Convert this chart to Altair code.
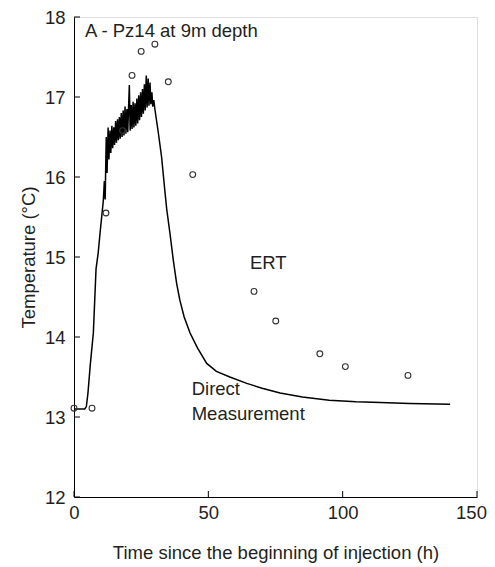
import altair as alt
import pandas as pd

direct_t = [0, 2, 4.0, 4.6, 5.2, 6.0, 7.2, 8.2, 9.0, 9.7, 10.3, 10.9,
            11.3, 11.6, 12.0, 12.3, 12.7, 13.0, 13.4, 13.7, 14.1, 14.4, 14.8, 15.1,
            15.5, 15.8, 16.2, 16.5, 16.9, 17.2, 17.6, 17.9, 18.3, 18.6, 19.0, 19.3,
            19.7, 20.0, 20.6, 20.9, 21.3, 21.6, 22.0, 22.3, 22.7, 23.0, 23.4, 23.7,
            24.1, 24.4, 24.8, 25.1, 25.5, 25.8, 26.2, 26.5, 26.9, 27.2, 27.6, 27.9,
            28.3, 28.6, 29.0, 29.3, 29.7, 30.1,
            31.4, 32.6, 33.9, 34.5, 35.7, 37.0, 38.2, 39.4, 41.0, 43.2, 46.0, 49.4,
            53.0, 58.0, 64.3, 70.0, 76.7, 85.0, 95.0, 105.0, 114.0, 125.0, 140.0]
direct_temp = [13.10, 13.10, 13.10, 13.13, 13.30, 13.63, 14.05, 14.85, 15.05, 15.30, 15.50, 15.70,
               15.95, 15.72, 16.50, 16.05, 16.62, 16.22, 16.58, 16.30, 16.64, 16.36, 16.62, 16.40,
               16.70, 16.43, 16.72, 16.46, 16.75, 16.48, 16.80, 16.50, 16.83, 16.52, 16.88, 16.54,
               16.85, 16.56, 17.15, 16.58, 16.90, 16.60, 16.94, 16.62, 16.92, 16.64, 16.98, 16.67,
               17.02, 16.71, 17.06, 16.75, 17.10, 16.79, 17.16, 16.83, 17.27, 16.87, 17.23, 16.89,
               17.18, 16.91, 17.06, 16.88, 16.96, 16.85,
               16.55, 16.25, 15.80, 15.60, 15.30, 14.95, 14.67, 14.46, 14.25, 14.05, 13.86, 13.67,
               13.57, 13.50, 13.42, 13.36, 13.30, 13.25, 13.21, 13.19, 13.18, 13.17, 13.16]

# ERT estimates
ert_t = [0.0, 6.7, 11.9, 18.1, 21.6, 25.0, 30.1, 35.1, 44.2, 67.0, 75.1, 91.5, 101.0, 124.3]
ert_temp = [13.11, 13.11, 15.55, 16.58, 17.27, 17.57, 17.66, 17.19, 16.03, 14.57, 14.20, 13.79, 13.63, 13.52]

# Annotations
label_text = ["A - Pz14 at 9m depth", "ERT", "Direct", "Measurement"]
label_t = [4.1, 65.5, 43.8, 43.8]
label_temp = [17.746, 14.85, 13.275, 12.96]

x_ticks = [0, 50, 100, 150]
y_ticks = [12, 13, 14, 15, 16, 17, 18]

FONT = "Liberation Sans"
TXT = "#231f20"
FS = 18.5

df_line = pd.DataFrame({"t": direct_t, "temp": direct_temp, "i": range(len(direct_t))})
df_ert = pd.DataFrame({"t": ert_t, "temp": ert_temp})
df_lab = pd.DataFrame({"text": label_text, "t": label_t, "temp": label_temp})
df_xt = pd.DataFrame({"v": x_ticks})
df_yt = pd.DataFrame({"v": y_ticks})

xscale = alt.Scale(domain=[0, 150], nice=False, zero=False)
yscale = alt.Scale(domain=[12, 18], nice=False, zero=False)

xaxis = alt.Axis(values=x_ticks, ticks=False, grid=False, domainColor="black", domainWidth=1,
                 labelFlush=False, format="d",
                 labelOffset={"expr": "datum.value == 150 ? -6 : 0"},
                 labelFont=FONT, labelFontSize=FS, labelColor=TXT, labelPadding=6,
                 title="Time since the beginning of injection (h)", titleFont=FONT,
                 titleFontSize=FS, titleColor=TXT, titleFontWeight="normal", titlePadding=22)
yaxis = alt.Axis(values=y_ticks, ticks=False, grid=False, domainColor="black", domainWidth=1,
                 labelFlush=False, format="d",
                 labelFont=FONT, labelFontSize=FS, labelColor=TXT, labelPadding=9,
                 title="Temperature (°C)", titleFont=FONT, titleFontSize=FS, titleColor=TXT,
                 titleFontWeight="normal", titlePadding=6)

line = alt.Chart(df_line).mark_line(color="black", strokeWidth=1.5).encode(
    x=alt.X("t:Q", scale=xscale, axis=xaxis),
    y=alt.Y("temp:Q", scale=yscale, axis=yaxis),
    order="i:Q",
)

pts = alt.Chart(df_ert).mark_point(shape="circle", filled=False, size=34, color="#333333",
                                   strokeWidth=1.1, opacity=1).encode(
    x=alt.X("t:Q", scale=xscale),
    y=alt.Y("temp:Q", scale=yscale),
)

labels = alt.Chart(df_lab).mark_text(align="left", baseline="alphabetic", font=FONT,
                                     fontSize=FS, color=TXT).encode(
    x=alt.X("t:Q", scale=xscale),
    y=alt.Y("temp:Q", scale=yscale),
    text="text:N",
)

yt = alt.Chart(df_yt).mark_rule(color="black", strokeWidth=1).encode(
    y=alt.Y("v:Q", scale=yscale),
    x=alt.value(0),
    x2=alt.value(6),
)
xt = alt.Chart(df_xt).mark_rule(color="black", strokeWidth=1).encode(
    x=alt.X("v:Q", scale=xscale),
    y=alt.value(480),
    y2=alt.value(474),
)

chart = alt.layer(yt, xt, line, pts, labels).properties(
    width=403, height=480,
    autosize=alt.AutoSizeParams(type="none"),
    padding={"left": 66, "top": 9, "right": 10, "bottom": 68},
).configure_view(stroke=None).configure(background="white")

chart.save("out.html", embed_options={"renderer": "svg", "actions": False})
